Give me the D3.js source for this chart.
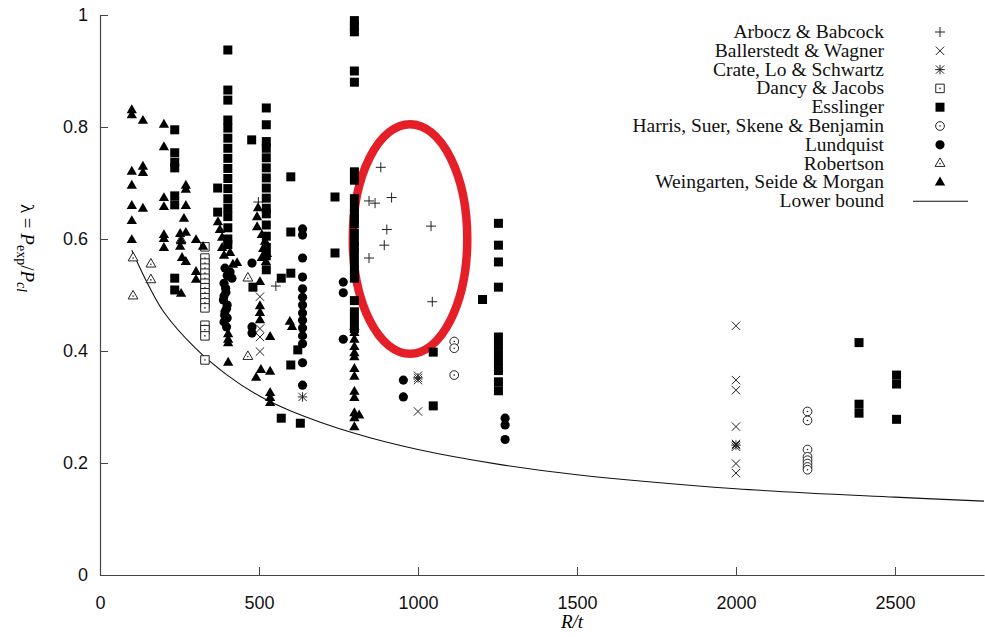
<!DOCTYPE html>
<html><head><meta charset="utf-8">
<script src="https://cdn.jsdelivr.net/npm/d3@7"></script>
<style>body{margin:0;background:#fff}svg{display:block}</style>
</head><body><svg id="c" width="985" height="637"></svg>
<script>
// ---- data: [R/t, lambda] ----
const arbocz = [[883,0.728],[846,0.668],[865,0.664],[917,0.674],[902,0.617],[894,0.589],[846,0.566],[1041,0.623],[1045,0.488],[498,0.666],[553,0.516]];
const ballerstedt = [[503,0.497],[503,0.440],[503,0.425],[503,0.399],[1000,0.356],[1000,0.348],[1000,0.292],[2000,0.445],[2000,0.348],[2000,0.330],[2000,0.265],[2000,0.234],[2000,0.229],[2000,0.199],[2000,0.182]];
const crate = [[637,0.318],[1000,0.352],[2000,0.232]];
const dancy = [[330,0.586],[330,0.566],[330,0.557],[330,0.548],[330,0.539],[330,0.530],[330,0.521],[330,0.513],[330,0.504],[330,0.495],[330,0.486],[330,0.477],[330,0.446],[330,0.438],[330,0.427],[330,0.384]];
const esslinger = [
 [235,0.795],[235,0.754],[235,0.737],[235,0.727],[235,0.677],[235,0.661],[235,0.530],[235,0.509],
 [370,0.691],[370,0.648],
 [402,0.9375],[402,0.866],[402,0.848],[402,0.8125],[402,0.798],[402,0.780],[402,0.762],[402,0.744],[402,0.726],[402,0.708],[402,0.690],[402,0.672],[402,0.655],[402,0.640],[402,0.620],[402,0.600],[402,0.590],
 [477,0.777],[481,0.514],
 [523,0.834],[523,0.804],[523,0.774],[523,0.762],[523,0.745],[523,0.727],[523,0.709],[523,0.691],[523,0.673],[523,0.655],[523,0.645],[523,0.625],[523,0.605],[523,0.585],[523,0.570],[523,0.545],
 [570,0.530],[570,0.280],
 [600,0.711],[600,0.6125],[600,0.539],[600,0.375],[622,0.402],[630,0.271],
 [739,0.675],[739,0.575],
 [800,0.990],[800,0.980],[800,0.970],[800,0.900],[800,0.880],[800,0.720],[800,0.705],[800,0.672],[800,0.657],[800,0.645],[800,0.636],[800,0.627],[800,0.610],[800,0.595],[800,0.586],[800,0.575],[800,0.560],[800,0.545],[800,0.530],[800,0.490],[800,0.470],[800,0.455],[800,0.440],
 [1048,0.398],[1048,0.302],[1203,0.492],
 [1253,0.628],[1253,0.589],[1253,0.559],[1253,0.514],[1253,0.425],[1253,0.410],[1253,0.395],[1253,0.380],[1253,0.365],[1253,0.345],[1253,0.329],
 [2387,0.415],[2387,0.305],[2387,0.289],[2505,0.357],[2505,0.341],[2505,0.278]];
const harris = [[1114,0.417],[1114,0.405],[1114,0.357],[2225,0.292],[2225,0.276],[2225,0.224],[2225,0.211],[2225,0.205],[2225,0.199],[2225,0.193],[2225,0.188]];
const lundquist = [
 [393,0.548],[409,0.541],[415,0.530],[400,0.535],[390,0.521],[395,0.512],[396,0.505],[390,0.498],[388,0.491],[400,0.482],[398,0.476],[393,0.470],[392,0.464],[400,0.459],[390,0.452],[398,0.443],
 [478,0.557],[478,0.443],[478,0.432],
 [637,0.618],[637,0.607],[637,0.566],[637,0.532],[637,0.511],[637,0.496],[637,0.482],[637,0.468],[637,0.455],[637,0.441],[637,0.427],[637,0.413],[637,0.379],[637,0.339],
 [765,0.523],[765,0.504],[765,0.421],
 [954,0.348],[954,0.318],
 [1274,0.280],[1274,0.268],[1274,0.242]];
const robertson = [[104,0.566],[104,0.498],[160,0.555],[160,0.527],[255,0.598],[465,0.530],[465,0.390]];
const weingarten = [
 [100,0.830],[100,0.821],[100,0.720],[100,0.695],[100,0.659],[100,0.632],[100,0.598],
 [135,0.811],[135,0.729],[135,0.718],[135,0.654],
 [201,0.804],[201,0.764],[201,0.673],[201,0.657],[201,0.607],[201,0.600],[201,0.584],
 [270,0.695],[270,0.688],[270,0.659],[264,0.636],[270,0.611],[252,0.609],[255,0.596],[252,0.586],[258,0.566],[270,0.559],[255,0.502],
 [302,0.598],[302,0.541],[302,0.527],[324,0.586],
 [371,0.630],[377,0.616],[384,0.602],[384,0.584],[390,0.570],[409,0.575],[418,0.554],[431,0.557],
 [403,0.430],[403,0.420],[403,0.414],[403,0.379],
 [497,0.655],[494,0.639],[494,0.621],[509,0.607],[519,0.595],[513,0.582],[525,0.573],[509,0.566],[522,0.559],[503,0.523],[503,0.480],[503,0.468],[503,0.455],[535,0.425],[506,0.366],[535,0.363],[491,0.352],[535,0.325],[535,0.316],[535,0.307],
 [597,0.452],[604,0.443],
 [800,0.443],[800,0.432],[800,0.420],[800,0.407],[800,0.396],[800,0.389],[800,0.368],[800,0.354],[800,0.327],[800,0.316],[800,0.289],[800,0.280],[800,0.264],[815,0.285]];
const lowerBound = [[100,0.58],[150,0.52],[200,0.47],[300,0.405],[400,0.357],[500,0.32],[600,0.293],[800,0.253],[1000,0.224],[1250,0.198],[1500,0.179],[2000,0.154],[2500,0.139],[2780,0.132]];
const xTicks = [0,500,1000,1500,2000,2500];
const yTicks = [0,0.2,0.4,0.6,0.8,1];
const seriesNames = ["Arbocz & Babcock","Ballerstedt & Wagner","Crate, Lo & Schwartz","Dancy & Jacobs","Esslinger","Harris, Suer, Skene & Benjamin","Lundquist","Robertson","Weingarten, Seide & Morgan"];
const highlight = {cx:975, cy:0.60, rx:180, ry:0.205};

// ---- chart ----
const svg = d3.select("#c");
const x = d3.scaleLinear().domain([0,2780]).range([100,984]);
const y = d3.scaleLinear().domain([0,1]).range([575,15]);

const plus = {draw(c,s){const r=Math.sqrt(s)/2;c.moveTo(-r,0);c.lineTo(r,0);c.moveTo(0,-r);c.lineTo(0,r);}};
const times = {draw(c,s){const r=Math.sqrt(s)/2;c.moveTo(-r,-r);c.lineTo(r,r);c.moveTo(r,-r);c.lineTo(-r,r);}};
const star = {draw(c,s){plus.draw(c,s);times.draw(c,s*0.75);}};

const styles = [
 {data:arbocz, type:plus, size:100, fill:"none", stroke:true},
 {data:ballerstedt, type:times, size:70, fill:"none", stroke:true},
 {data:crate, type:star, size:90, fill:"none", stroke:true},
 {data:dancy, type:d3.symbolSquare, size:72, fill:"#fff", stroke:true, dot:true},
 {data:esslinger, type:d3.symbolSquare, size:81, fill:"#000", stroke:false},
 {data:harris, type:d3.symbolCircle, size:60, fill:"#fff", stroke:true, dot:true},
 {data:lundquist, type:d3.symbolCircle, size:66, fill:"#000", stroke:false},
 {data:robertson, type:d3.symbolTriangle, size:42, fill:"#fff", stroke:true, dot:true},
 {data:weingarten, type:d3.symbolTriangle, size:46, fill:"#000", stroke:false}
];

// highlight ellipse (behind markers)
svg.append("ellipse")
 .attr("cx", x(highlight.cx)).attr("cy", y(highlight.cy))
 .attr("rx", x(highlight.cx+highlight.rx)-x(highlight.cx))
 .attr("ry", y(0)-y(highlight.ry))
 .attr("fill","none").attr("stroke","#e51f27").attr("stroke-width",8.5);

// lower bound
svg.append("path").datum(lowerBound)
 .attr("d", d3.line().x(d=>x(d[0])).y(d=>y(d[1])).curve(d3.curveCatmullRom))
 .attr("fill","none").attr("stroke","#111").attr("stroke-width",1.1);

function drawSym(g, st, tx, ty){
 g.append("path").attr("transform",`translate(${tx},${ty})`)
  .attr("d", d3.symbol().type(st.type).size(st.size)())
  .attr("fill", st.fill).attr("stroke", st.stroke ? "#222" : "none").attr("stroke-width",1);
 if (st.dot) g.append("circle").attr("cx",tx).attr("cy",ty).attr("r",0.8).attr("fill","#222");
}

const pts = svg.append("g");
styles.forEach(st => st.data.forEach(d => drawSym(pts, st, x(d[0]), y(d[1]))));

// axes
const fontAxis = "'Liberation Sans', Arial, sans-serif";
const gx = svg.append("g").attr("transform","translate(0,575)")
 .call(d3.axisBottom(x).tickValues(xTicks).tickFormat(d3.format("d")).tickSize(-8).tickSizeOuter(0).tickPadding(21));
const gy = svg.append("g").attr("transform","translate(100,0)")
 .call(d3.axisLeft(y).tickValues(yTicks).tickFormat(d3.format("~g")).tickSize(-8).tickSizeOuter(0).tickPadding(12));
[gx,gy].forEach(g=>{
 g.select(".domain").attr("stroke","#444").attr("stroke-width",1.2);
 g.selectAll(".tick line").attr("stroke","#444");
 g.selectAll("text").attr("font-family",fontAxis).attr("font-size",18).attr("fill","#111");
});

// axis titles
const serif = "'Liberation Serif', 'Times New Roman', serif";
svg.append("text").attr("x",572).attr("y",628).attr("text-anchor","middle")
 .attr("font-family",serif).attr("font-style","italic").attr("font-size",19)
 .text("R/t");
const yt = svg.append("text").attr("transform","translate(21,248) rotate(90)").attr("text-anchor","middle")
 .attr("font-family",serif).attr("font-size",19);
yt.append("tspan").text("λ = ");
yt.append("tspan").attr("font-style","italic").text("P");
yt.append("tspan").attr("font-size",14).attr("dy",4).text("exp");
yt.append("tspan").attr("dy",-4).text("/");
yt.append("tspan").attr("font-style","italic").text("P");
yt.append("tspan").attr("font-size",14).attr("font-style","italic").attr("dy",4).text("cl");

// legend
const leg = svg.append("g");
seriesNames.forEach((n,i)=>{
 const cy = 32 + i*18.8;
 leg.append("text").attr("x",884).attr("y",cy+6).attr("text-anchor","end")
  .attr("font-family",serif).attr("font-size",19.5).attr("fill","#111").text(n);
 drawSym(leg, styles[i], 940, cy);
});
const lbY = 32 + 9*18.8;
leg.append("text").attr("x",884).attr("y",lbY+6).attr("text-anchor","end")
 .attr("font-family",serif).attr("font-size",19.5).attr("fill","#111").text("Lower bound");
leg.append("line").attr("x1",913).attr("x2",968).attr("y1",lbY).attr("y2",lbY).attr("stroke","#111").attr("stroke-width",1.1);
</script></body></html>
